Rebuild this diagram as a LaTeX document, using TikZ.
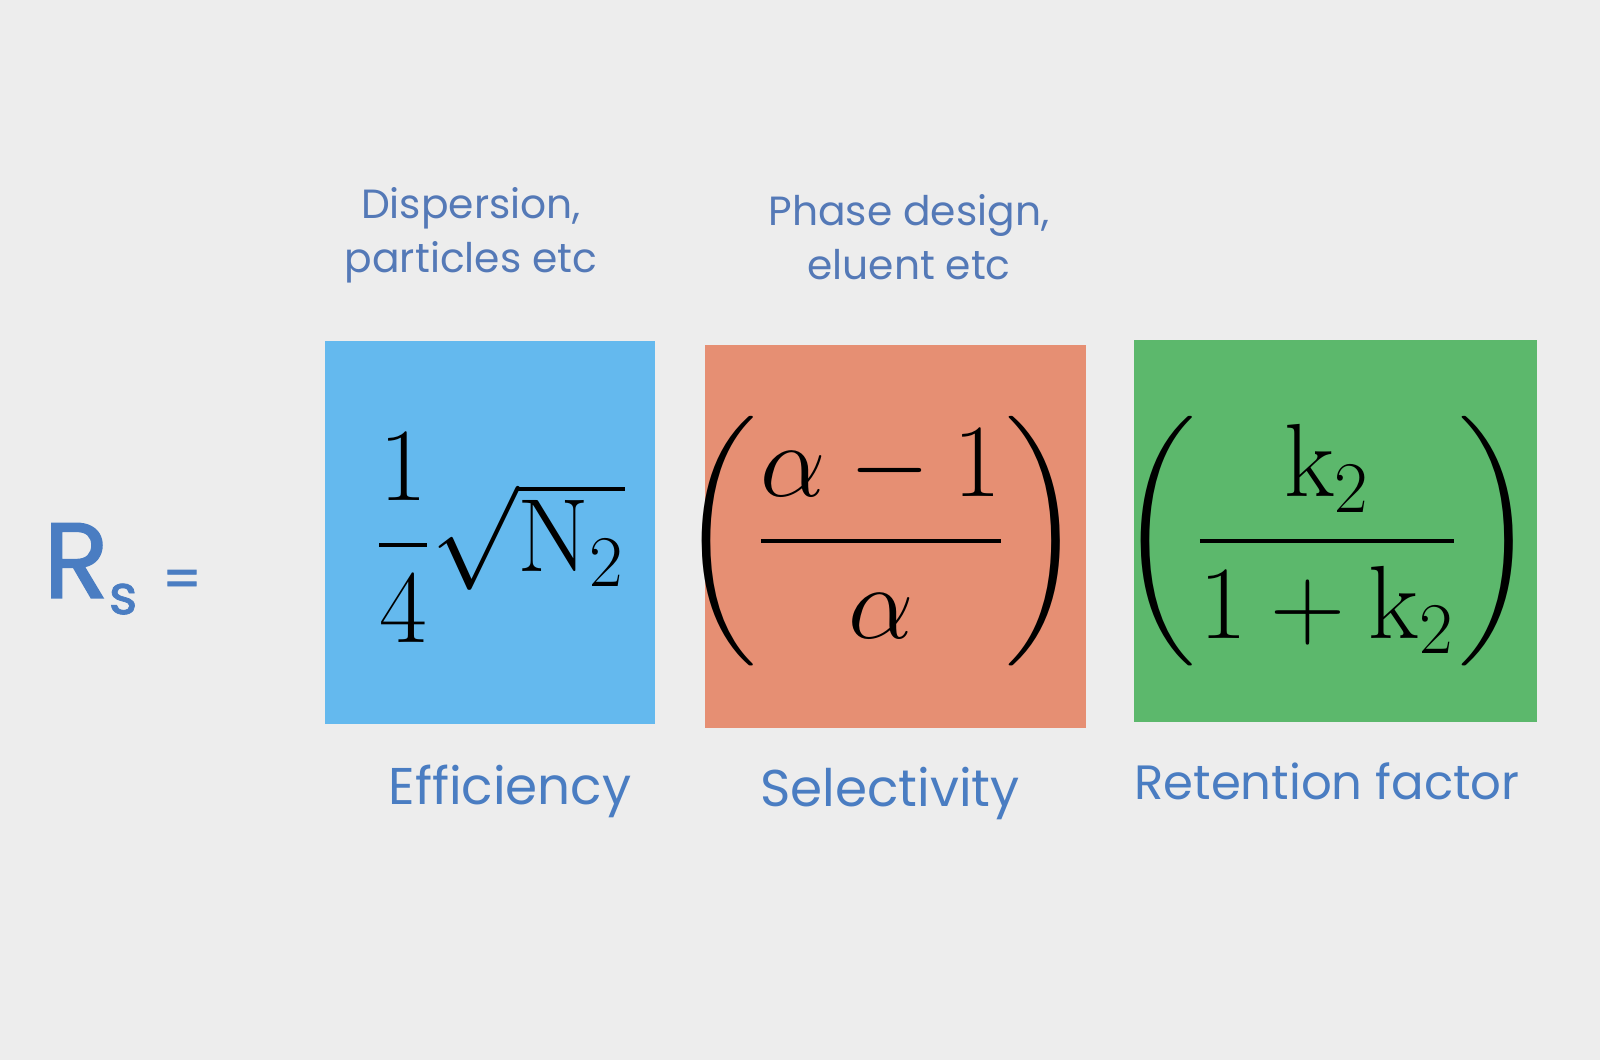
\documentclass[tikz,border=0pt]{standalone}
\usepackage{fix-cm}
\usepackage[no-math]{fontspec}
\setmainfont{Poppins}
\newfontfamily\rsfont[FakeBold=1.4]{Poppins}
\DeclareFontShape{OMX}{cmex}{m}{n}{<->cmex10}{}
\usetikzlibrary{positioning}
\definecolor{bgGrey}{HTML}{EDEDED}
\definecolor{labelBlue}{HTML}{4A7DC2}
\definecolor{noteBlue}{HTML}{5479B7}
\definecolor{effBlue}{HTML}{64B9EE}
\definecolor{selOrange}{HTML}{E68F73}
\definecolor{retGreen}{HTML}{5CB86C}
\tikzstyle{factor}=[rectangle, inner sep=0pt, anchor=north west]
\tikzstyle{term}=[inner sep=0pt, font=\fontsize{29.6}{36}\selectfont]
\tikzstyle{caption}=[text=labelBlue, inner sep=0pt, anchor=base, font=\fontsize{14.7}{17}\selectfont]
\tikzstyle{note}=[text=noteBlue, inner sep=0pt, align=center, font=\fontsize{11.6}{15.3}\selectfont]

\begin{document}
\begin{tikzpicture}
      \useasboundingbox[fill=bgGrey] (0, 0) rectangle (16, 10.6);

      % the three factors
      \node[factor, fill=effBlue, minimum width=3.30cm, minimum height=3.83cm] (eff) at (3.24, 7.20) {};
      \node[factor, fill=selOrange, minimum width=3.81cm, minimum height=3.83cm] (sel) at (7.04, 7.16) {};
      \node[factor, fill=retGreen, minimum width=4.03cm, minimum height=3.82cm] (ret) at (11.33, 7.21) {};

      \node[term] (eff_term) at (5.00, 5.22) {$\displaystyle\frac{1}{4}{\textstyle\sqrt{\mathrm{N}_2}}$};
      \node[term] (sel_term) at (8.81, 5.19) {$\displaystyle\left(\frac{\alpha-1}{\alpha}\right)$};
      \node[term] (ret_term) at (13.27, 5.19) {$\displaystyle\left(\frac{\mathrm{k}_2}{1+\mathrm{k}_2}\right)$};

      % R_s
      \node[anchor=base west, text=labelBlue, inner sep=0pt] (rs) at (0.43, 4.62)
        {\fontsize{30.5}{32}\rsfont R\raisebox{-0.16cm}{\fontsize{15.5}{16}\selectfont s}\hspace{0.25cm}{\fontsize{15.5}{16}\selectfont =}};

      % labels
      \node[caption] (eff_cap) at (5.10, 2.55) {Efficiency};
      \node[caption] (sel_cap) at (8.90, 2.53) {Selectivity};
      \node[caption, font=\fontsize{13.7}{17}\selectfont] (ret_cap) at (13.27, 2.60) {Retention factor};

      \node[note] (eff_note) at (4.71, 8.25) {Dispersion,\\particles etc};
      \node[note] (sel_note) at (9.09, 8.23) {Phase design,\\eluent etc};
\end{tikzpicture}
\end{document}
